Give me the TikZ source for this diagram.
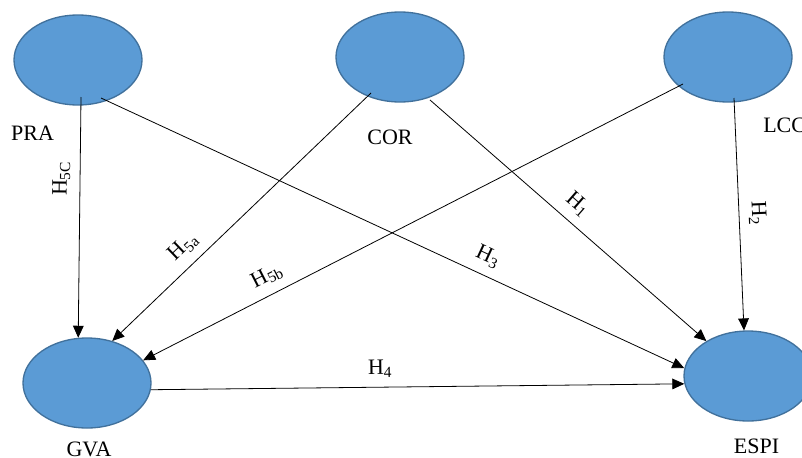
\documentclass[tikz,border=0pt]{standalone}
\usepackage{fontspec}
\setmainfont{Liberation Serif}
\usetikzlibrary{shapes.geometric,arrows.meta,calc}
\definecolor{fill1}{RGB}{91,155,213}
\definecolor{edge1}{RGB}{65,113,156}

\begin{document}
\begin{tikzpicture}[x=0.75pt,y=-0.75pt,
    construct/.style={ellipse, draw=edge1, fill=fill1, line width=1pt, minimum width=96pt, minimum height=67.5pt},
    varname/.style={inner sep=0pt, font=\fontsize{16.5}{20}\selectfont},
    hyp/.style={-{Triangle[length=9pt,width=8pt]}, line width=0.6pt},
    hlabel/.style={sloped, above=7pt, inner sep=0pt, font=\fontsize{16.5}{20}\selectfont}
]
    \useasboundingbox (0,0) rectangle (802,457);

    % constructs
    \node[construct, name=PRA] at(78,60) {};
    \node[construct, name=COR] at(400,57) {};
    \node[construct, name=LCC] at(728,57) {};
    \node[construct, name=GVA] at(87,383) {};
    \node[construct, name=ESPI] at(748,376) {};

    \node[varname, name=tPRA] at(32.5,133) {PRA};
    \node[varname, name=tCOR] at(390,137.5) {COR};
    \node[varname, name=tLCC, anchor=west] at(763,125.5) {LCC};
    \node[varname, name=tGVA] at(89,449.5) {GVA};
    \node[varname, name=tESPI] at(756.5,446.5) {ESPI};

    % hypotheses
    \draw[hyp] ($(PRA)+(3,37)$) -- (GVA.101) node[hlabel, pos=0.34] {H\textsubscript{5C}};
    \draw[hyp] ($(PRA)+(23,38)$) -- (ESPI.173) node[hlabel, pos=0.65] {H\textsubscript{3}};
    \draw[hyp] ($(COR)+(-29,36)$) -- (GVA.59) node[hlabel, pos=0.675] {H\textsubscript{5a}};
    \draw[hyp] ($(COR)+(30,43)$) -- (ESPI.140) node[hlabel, pos=0.49] {H\textsubscript{1}};
    \draw[hyp] ($(LCC)+(-45,27)$) -- (GVA.22) node[hlabel, pos=0.755] {H\textsubscript{5b}};
    \draw[hyp] ($(LCC)+(6,41)$) -- (ESPI.95) node[hlabel, pos=0.5] {H\textsubscript{2}};
    \draw[hyp] (GVA.-6) -- (ESPI.187) node[hlabel, pos=0.43] {H\textsubscript{4}};

\end{tikzpicture}
\end{document}
